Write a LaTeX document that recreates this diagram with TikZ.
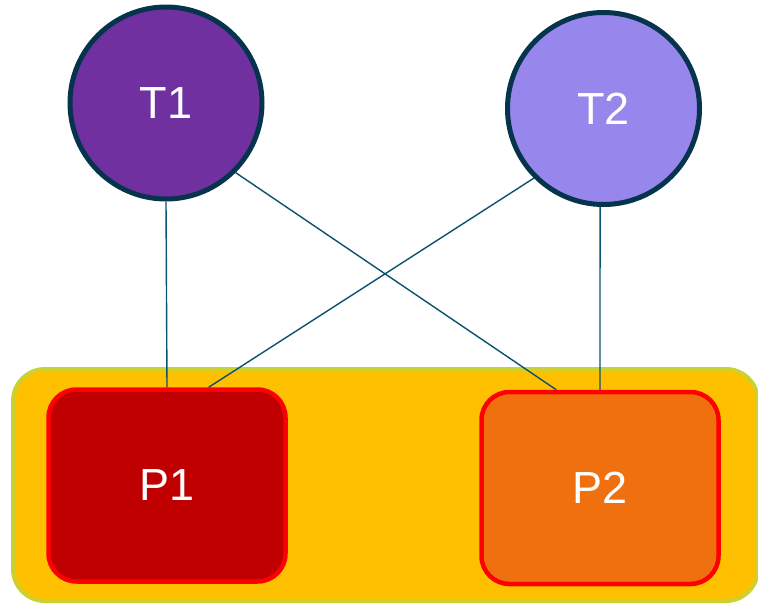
\documentclass[tikz,border=0pt]{standalone}
\usepackage{fontspec}
\setmainfont{Liberation Sans}
\definecolor{tonefill}{HTML}{7030A0}
\definecolor{ttwofill}{HTML}{9787EC}
\definecolor{circborder}{HTML}{06344D}
\definecolor{linkcol}{HTML}{0E5070}
\definecolor{boxfill}{HTML}{FFC000}
\definecolor{boxborder}{HTML}{CDD12F}
\definecolor{ponefill}{HTML}{C00000}
\definecolor{ptwofill}{HTML}{F07010}
\definecolor{pborder}{HTML}{FF0000}
\begin{document}
\begin{tikzpicture}[x=1pt,y=-1pt,
  tnode/.style={circle,draw=circborder,line width=5pt,minimum size=192pt,inner sep=0pt,text=white,font=\fontsize{45}{45}\selectfont},
  pnode/.style={rectangle,rounded corners=28pt,draw=pborder,line width=4.5pt,minimum width=237pt,minimum height=192pt,inner sep=0pt,text=white,font=\fontsize{45}{45}\selectfont},
  link/.style={draw=linkcol,line width=1.4pt}]
\useasboundingbox (0,0) rectangle (758,603);
\node[rectangle,rounded corners=32pt,draw=boxborder,fill=boxfill,line width=4pt,minimum width=745pt,minimum height=232pt] (grp) at (385.5,485) {};
\node[tnode,fill=tonefill] (T1) at (166,103) {T1};
\node[tnode,fill=ttwofill] (T2) at (603.5,108.5) {T2};
\node[pnode,fill=ponefill] (P1) at (167,485.5) {P1};
\node[pnode,fill=ptwofill] (P2) at (600,488) {P2};
\draw[link] (T1.south) -- (P1.north);
\draw[link] (T2.-92) -- (P2.north);
\draw[link] (T1.-45) -- (P2.114);
\draw[link] (T2.-135) -- (P1.67);
\end{tikzpicture}
\end{document}
